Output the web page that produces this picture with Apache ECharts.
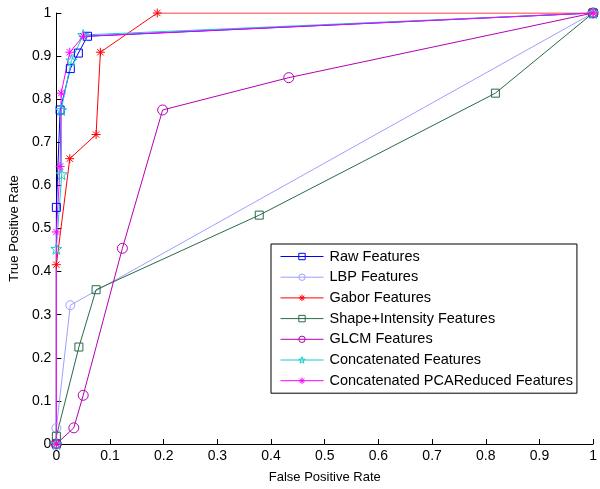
<!DOCTYPE html>
<html><head><meta charset="utf-8">
<script src="https://cdn.jsdelivr.net/npm/echarts@6/dist/echarts.min.js"></script>
<style>html,body{margin:0;padding:0;background:#fff}#c{width:600px;height:489px}</style>
</head><body><div id="c"></div>
<script>
const seriesNames = ['Raw Features','LBP Features','Gabor Features','Shape+Intensity Features','GLCM Features','Concatenated Features','Concatenated PCAReduced Features'];
const rawFeatures = [[0,0],[0,0.549],[0.007,0.775],[0.026,0.871],[0.041,0.907],[0.058,0.946],[1,1]];
const lbpFeatures = [[0,0],[0,0.037],[0.026,0.322],[1,1]];
const gaborFeatures = [[0,0],[0,0.416],[0.025,0.662],[0.074,0.718],[0.082,0.909],[0.188,1],[1,1]];
const shapeFeatures = [[0,0],[0,0.018],[0.042,0.225],[0.074,0.358],[0.378,0.531],[0.818,0.814],[1,1]];
const glcmFeatures = [[0,0],[0.0325,0.0375],[0.05,0.113],[0.123,0.454],[0.198,0.775],[0.433,0.85],[1,1]];
const concatFeatures = [[0,0],[0,0.453],[0.01,0.626],[0.009,0.775],[0.028,0.89],[0.05,0.949],[1,1]];
const pcaFeatures = [[0,0],[0,0.492],[0.007,0.644],[0.009,0.814],[0.025,0.909],[0.05,0.946],[1,1]];
const xTicks = [0,0.1,0.2,0.3,0.4,0.5,0.6,0.7,0.8,0.9,1];
const yTicks = [0,0.1,0.2,0.3,0.4,0.5,0.6,0.7,0.8,0.9,1];

const FONT = 'Liberation Sans';
const asterisk = 'path://M0,-10L0,10M-10,0L10,0M-7,-7L7,7M-7,7L7,-7';
const star = 'path://M0,-10L2.35,-3.24L9.51,-3.09L3.8,1.24L5.88,8.09L0,4L-5.88,8.09L-3.8,1.24L-9.51,-3.09L-2.35,-3.24Z';

function mk(name, data, color, symbol, size) {
  return {
    name: name, type: 'line', data: data, symbol: symbol, symbolSize: size,
    showAllSymbol: true, animation: false,
    lineStyle: { color: color, width: 1 },
    itemStyle: { color: 'rgba(0,0,0,0)', borderColor: color, borderWidth: 1 },
    emphasis: { disabled: true }
  };
}
const series = [
  mk(seriesNames[0], rawFeatures, '#0000ff', 'rect', 8),
  mk(seriesNames[1], lbpFeatures, '#9f9fff', 'circle', 9),
  mk(seriesNames[2], gaborFeatures, '#ff0000', asterisk, 9),
  mk(seriesNames[3], shapeFeatures, '#2a6a45', 'rect', 8),
  mk(seriesNames[4], glcmFeatures, '#b400b4', 'circle', 10),
  mk(seriesNames[5], concatFeatures, '#14cccc', star, 11),
  mk(seriesNames[6], pcaFeatures, '#ff00ff', asterisk, 9)
];

const chart = echarts.init(document.getElementById('c'), null, { renderer: 'canvas' });
chart.setOption({
  animation: false,
  backgroundColor: '#fff',
  grid: { left: 55, right: 2, top: 13, bottom: 41, containLabel: false },
  xAxis: {
    type: 'value', min: 0, max: 1, interval: 0.1,
    name: 'False Positive Rate', nameLocation: 'middle', nameGap: 27,
    nameTextStyle: { fontFamily: FONT, fontSize: 13, color: '#000' },
    axisLine: { show: true, lineStyle: { color: '#000', width: 1 } },
    axisTick: { show: true, inside: true, length: 5, lineStyle: { color: '#000' } },
    axisLabel: { fontFamily: FONT, fontSize: 14, color: '#000', margin: 5,
      formatter: v => { const t = xTicks.find(a => Math.abs(a - v) < 1e-9); return t === undefined ? '' : String(t); } },
    splitLine: { show: false }
  },
  yAxis: {
    type: 'value', min: 0, max: 1, interval: 0.1,
    name: 'True Positive Rate', nameLocation: 'middle', nameGap: 32,
    nameTextStyle: { fontFamily: FONT, fontSize: 13, color: '#000' },
    axisLine: { show: true, lineStyle: { color: '#000', width: 1 } },
    axisTick: { show: true, inside: true, length: 5, lineStyle: { color: '#000' } },
    axisLabel: { fontFamily: FONT, fontSize: 14, color: '#000', margin: 5,
      formatter: v => { const t = yTicks.find(a => Math.abs(a - v) < 1e-9); return t === undefined ? '' : String(t); } },
    splitLine: { show: false }
  },
  legend: {
    orient: 'vertical', left: 271, top: 244, width: 307,
    backgroundColor: '#fff', borderColor: '#000', borderWidth: 1, borderRadius: 0,
    padding: [5, 4, 5, 9], itemGap: 5.7, itemWidth: 43, itemHeight: 8,
    lineStyle: { width: 1 },
    itemStyle: { borderWidth: 1 },
    textStyle: { fontFamily: FONT, fontSize: 14.5, color: '#000', padding: [0, 0, 0, 1] },
    data: seriesNames, selectedMode: false
  },
  series: series
});
</script></body></html>
